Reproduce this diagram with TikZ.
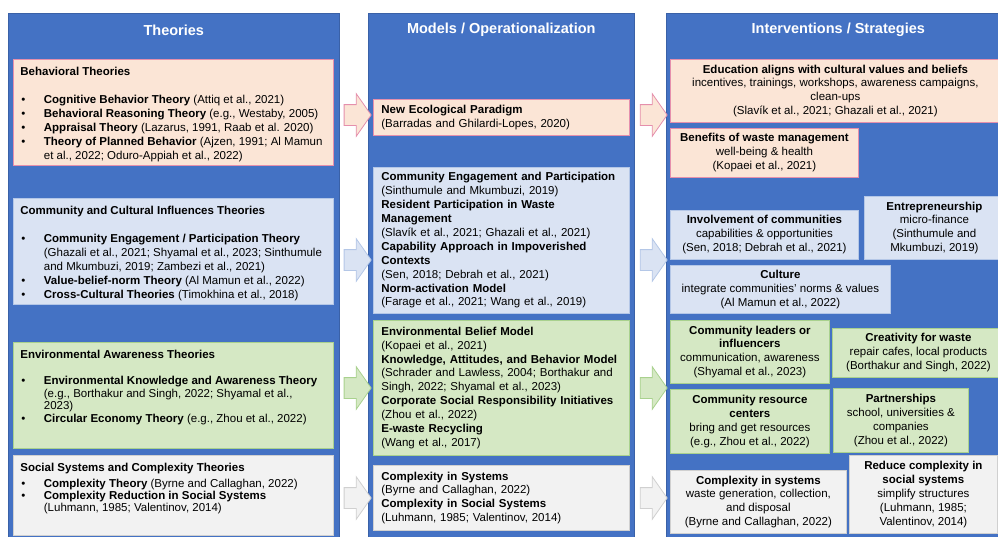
\documentclass[tikz,border=0pt]{standalone}
\usepackage{fontspec}
\setmainfont{Liberation Sans}
\usepackage{tikz}
\usetikzlibrary{shapes.arrows}
\definecolor{PanelBlue}{HTML}{4472C4}
\definecolor{peachfill}{HTML}{FBE5D6}
\definecolor{peachline}{HTML}{E58FAC}
\definecolor{bluefill}{HTML}{DAE3F3}
\definecolor{blueline}{HTML}{B4C7E7}
\definecolor{greenfill}{HTML}{D5E8C4}
\definecolor{greenline}{HTML}{A9D18E}
\definecolor{grayfill}{HTML}{F2F2F2}
\definecolor{grayline}{HTML}{D0D0D0}
\newcommand{\bitem}[1]{\par\hangindent=23.5pt\hangafter=1\noindent\makebox[23.5pt][l]{\hspace{1pt}\textbullet}#1}
\newcommand{\thtext}[2]{\parbox[c][#1][t]{306pt}{\raggedright\vspace*{8pt}#2}}

\begin{document}
\begin{tikzpicture}[x=1pt, y=-1pt, font=\fontsize{11.5}{13.9}\selectfont,
Panel/.style={draw=PanelBlue!85!black, fill=PanelBlue, anchor=north west, inner sep=0pt, line width=0.6pt},
PanelTitle/.style={text=white, font=\fontsize{14.5}{17}\selectfont\bfseries},
Box/.style={draw=#1line, fill=#1fill, line width=0.8pt, anchor=north west, inner sep=0pt},
LeftBox/.style={Box=#1, inner xsep=7pt, align=left},
MidBox/.style={Box=#1, inner xsep=8pt, text width=240pt, align=left},
RightBox/.style={Box=#1, align=center},
BlockArrow/.style={single arrow, draw=#1line, fill=#1fill, line width=0.8pt, inner xsep=0pt, inner ysep=10pt,
  minimum height=27pt, single arrow head extend=11pt, single arrow tip angle=110}]
\useasboundingbox (0,0) rectangle (998,536);
\foreach \pname/\px/\pw/\ptitle in {theo/8/331/Theories, mod/368/266/{Models / Operationalization}, intv/666/344/{Interventions / Strategies}} {
  \node [Panel, minimum width=\pw, minimum height=530] (\pname) at (\px, 13) {};
  \node [PanelTitle] (\pname-title) at ([yshift=-17pt]\pname.north) {\ptitle};
}
% theories
\node [LeftBox=peach] (beh) at (13, 59) {\thtext{106pt}{%
  \textbf{Behavioral Theories}\par\vspace{\baselineskip}
  \bitem{\textbf{Cognitive Behavior Theory} (Attiq et al., 2021)}
  \bitem{\textbf{Behavioral Reasoning Theory} (e.g., Westaby, 2005)}
  \bitem{\textbf{Appraisal Theory} (Lazarus, 1991, Raab et al. 2020)}
  \bitem{\textbf{Theory of Planned Behavior} (Ajzen, 1991; Al Mamun\newline et al., 2022; Oduro-Appiah et al., 2022)}}};
\node [LeftBox=blue] (comm) at (13, 198) {\thtext{106pt}{%
  \textbf{Community and Cultural Influences Theories}\par\vspace{\baselineskip}
  \bitem{\textbf{Community Engagement / Participation Theory}\newline (Ghazali et al., 2021; Shyamal et al., 2023; Sinthumule\newline and Mkumbuzi, 2019; Zambezi et al., 2021)}
  \bitem{\textbf{Value-belief-norm Theory} (Al Mamun et al., 2022)}
  \bitem{\textbf{Cross-Cultural Theories} (Timokhina et al., 2018)}}};
\node [LeftBox=green] (env) at (13, 342) {\thtext{106pt}{\fontsize{11.5}{12.8}\selectfont
  \textbf{Environmental Awareness Theories}\par\vspace{\baselineskip}
  \bitem{\textbf{Environmental Knowledge and Awareness Theory}\newline (e.g., Borthakur and Singh, 2022; Shyamal et al.,\newline 2023)}
  \bitem{\textbf{Circular Economy Theory} (e.g., Zhou et al., 2022)}}};
\node [LeftBox=gray] (soc) at (13, 455) {\thtext{80pt}{\fontsize{11.5}{12}\selectfont
  \textbf{Social Systems and Complexity Theories}\par\vspace{4pt}
  \bitem{\textbf{Complexity Theory} (Byrne and Callaghan, 2022)}
  \bitem{\textbf{Complexity Reduction in Social Systems}\newline (Luhmann, 1985; Valentinov, 2014)}}};
% models
\node [MidBox=peach, minimum height=36] (nep) at (373, 99) {\textbf{New Ecological Paradigm}\\(Barradas and Ghilardi-Lopes, 2020)};
\node [MidBox=blue, minimum height=146] (ceng) at (373, 167) {\textbf{Community Engagement and Participation}\\
  (Sinthumule and Mkumbuzi, 2019)\\
  \textbf{Resident Participation in Waste}\\
  \textbf{Management}\\
  (Slavík et al., 2021; Ghazali et al., 2021)\\
  \textbf{Capability Approach in Impoverished}\\
  \textbf{Contexts}\\
  (Sen, 2018; Debrah et al., 2021)\\
  \textbf{Norm-activation Model}\\
  (Farage et al., 2021; Wang et al., 2019)};
\node [MidBox=green, minimum height=135] (ebm) at (373, 320) {\textbf{Environmental Belief Model}\\
  (Kopaei et al., 2021)\\
  \textbf{Knowledge, Attitudes, and Behavior Model}\\
  (Schrader and Lawless, 2004; Borthakur and\\
  Singh, 2022; Shyamal et al., 2023)\\
  \textbf{Corporate Social Responsibility Initiatives}\\
  (Zhou et al., 2022)\\
  \textbf{E-waste Recycling}\\
  (Wang et al., 2017)};
\node [MidBox=gray, minimum height=65] (cis) at (373, 465) {\textbf{Complexity in Systems}\\
  (Byrne and Callaghan, 2022)\\
  \textbf{Complexity in Social Systems}\\
  (Luhmann, 1985; Valentinov, 2014)};
% interventions
\node [RightBox=peach, minimum width=330, minimum height=63] (edu) at (670, 59) {\textbf{Education aligns with cultural values and beliefs}\\incentives, trainings, workshops, awareness campaigns,\\clean-ups\\(Slavík et al., 2021; Ghazali et al., 2021)};
\node [RightBox=peach, minimum width=188, minimum height=49] (ben) at (670, 128) {\textbf{Benefits of waste management}\\well-being \& health\\(Kopaei et al., 2021)};
\node [RightBox=blue, minimum width=140, minimum height=63] (entr) at (864, 196) {\textbf{Entrepreneurship}\\micro-finance\\(Sinthumule and\\Mkumbuzi, 2019)};
\node [RightBox=blue, minimum width=188, minimum height=49] (inv) at (670, 210) {\textbf{Involvement of communities}\\capabilities \& opportunities\\(Sen, 2018; Debrah et al., 2021)};
\node [RightBox=blue, minimum width=220, minimum height=48] (cult) at (670, 265) {\textbf{Culture}\\integrate communities' norms \& values\\(Al Mamun et al., 2022)};
\node [RightBox=green, minimum width=159, minimum height=63] (lead) at (670, 320) {\textbf{Community leaders or}\\\textbf{influencers}\\communication, awareness\\(Shyamal et al., 2023)};
\node [RightBox=green, minimum width=172, minimum height=49] (crea) at (832, 328) {\textbf{Creativity for waste}\\repair cafes, local products\\(Borthakur and Singh, 2022)};
\node [RightBox=green, minimum width=159, minimum height=64] (res) at (670, 389) {\textbf{Community resource}\\\textbf{centers}\\bring and get resources\\(e.g., Zhou et al., 2022)};
\node [RightBox=green, minimum width=135, minimum height=64] (part) at (833, 388) {\textbf{Partnerships}\\school, universities \&\\companies\\(Zhou et al., 2022)};
\node [RightBox=gray, minimum width=176, minimum height=63] (cxs) at (670, 470) {\textbf{Complexity in systems}\\waste generation, collection,\\and disposal\\(Byrne and Callaghan, 2022)};
\node [RightBox=gray, minimum width=148, minimum height=78] (redc) at (849, 455) {\textbf{Reduce complexity in}\\\textbf{social systems}\\simplify structures\\(Luhmann, 1985;\\Valentinov, 2014)};
% arrows between the columns
\foreach \col/\ay [count=\i] in {peach/115, blue/260, green/388, gray/498} {
  \node [BlockArrow=\col] (arrowL\i) at (354, \ay) {};
  \node [BlockArrow=\col] (arrowR\i) at (650, \ay) {};
}
\end{tikzpicture}
\end{document}
